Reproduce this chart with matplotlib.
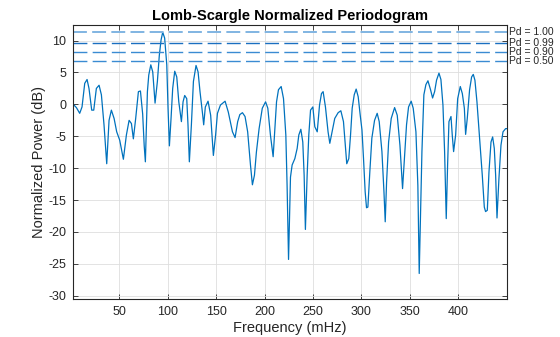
import matplotlib

matplotlib.use('Agg')

import matplotlib.pyplot as plt
import matplotlib.transforms as mtransforms

# frequency (mHz) and normalized power (dB)
freq = [
    2.6, 5.8, 9.2, 11.6, 14.4, 16.8, 18.8, 21.6, 23.7, 26.4, 29.2, 31.6,
    34.3, 37.1, 39.5, 41.9, 44.7, 47.4, 50.5, 54.3, 57.4, 60.2, 62.6, 64.6,
    67.0, 69.8, 71.9, 74.2, 75.8, 77.0, 79.1, 80.5, 82.6, 84.6, 87.0, 89.4,
    91.4, 93.2, 94.9, 96.9, 99.1, 100.4, 101.8, 103.5, 105.2, 107.3, 109.4,
    111.5, 114.2, 115.9, 117.6, 119.7, 121.0, 122.4, 124.5, 126.6, 129.3,
    131.4, 133.4, 136.2, 137.2, 138.9, 141.7, 144.4, 147.2, 149.5, 151.4,
    154.5, 159.3, 162.6, 166.9, 169.6, 172.3, 174.5, 177.2, 179.9, 182.6,
    185.5, 187.5, 189.6, 191.6, 194.4, 197.7, 201.1, 203.4, 206.1, 208.9,
    211.0, 212.4, 214.4, 217.2, 219.6, 222.0, 223.3, 224.8, 226.8, 228.5,
    231.3, 233.7, 235.4, 237.5, 239.5, 240.9, 242.2, 244.0, 245.7, 247.5,
    249.9, 251.9, 254.4, 256.8, 258.8, 260.5, 262.9, 265.6, 267.4, 269.8,
    272.5, 276.0, 278.8, 281.5, 283.6, 284.9, 287.0, 288.8, 290.5, 292.6,
    294.6, 296.7, 298.8, 300.6, 302.2, 303.9, 305.3, 306.7, 308.7, 310.8,
    313.6, 316.3, 318.4, 321.2, 323.3, 324.6, 326.0, 328.1, 330.8, 334.3,
    337.0, 339.8, 342.5, 344.6, 346.6, 348.7, 351.4, 353.5, 356.3, 358.3,
    359.7, 361.1, 362.5, 364.5, 366.6, 368.7, 371.4, 373.5, 375.6, 377.6,
    380.1, 382.1, 384.2, 385.9, 387.6, 389.0, 390.4, 392.5, 393.8, 395.2,
    397.3, 399.4, 402.1, 404.2, 406.3, 407.6, 409.3, 411.7, 413.8, 415.5,
    417.2, 419.3, 422.1, 424.8, 426.9, 428.2, 430.0, 431.7, 433.8, 435.5,
    437.2, 438.6, 440.0, 442.0, 444.1, 446.2, 448.9, 450.0,
]
power_db = [
    0.0, -0.5, -1.4, -0.4, 3.3, 3.9, 2.5, -0.9, -0.9, 2.5, 3.0, 1.5,
    -3.2, -9.3, -2.5, -0.9, -2.2, -4.3, -5.6, -8.6, -4.8, -2.5, -3.0, -5.4,
    -2.2, 2.0, 2.1, -1.5, -6.5, -9.0, 2.0, 4.6, 6.2, 5.1, 0.2, 3.6,
    7.7, 10.1, 11.3, 10.4, 6.2, -0.6, -6.5, -2.2, 2.5, 5.2, 4.3,
    0.4, -2.7, 0.4, 1.4, 0.9, -3.2, -9.0, -3.2, 3.6, 6.1,
    5.1, 2.0, -1.7, -3.2, -0.4, 0.5, -1.7, -8.0, -4.8, -1.4,
    -0.1, 0.5, -1.2, -4.3, -5.2, -2.7, -1.6, -1.3, -1.9, -4.3,
    -9.5, -12.6, -11.1, -7.5, -3.8, -0.6, 0.4, -0.6, -4.8, -8.2,
    -3.2, 0.4, 2.3, 2.8, 0.9, -4.8, -12.7, -24.3, -11.4, -9.5,
    -8.5, -6.9, -4.8, -3.9, -5.9, -11.1, -19.6, -11.1, -4.8, -0.9,
    -0.4, -3.5, -4.3, -0.1, 1.7, 2.0, -0.4, -4.3, -6.1, -4.3,
    -2.2, -1.3, -1.0, -2.7, -6.9, -9.3, -8.5, -4.8, -0.6, 1.5,
    2.4, 1.2, -1.7, -4.0, -8.5, -13.7, -16.2, -16.1, -10.6, -5.3,
    -2.5, -1.4, -2.7, -7.4, -13.7, -18.4, -12.2, -5.9, -2.2, -0.5,
    -1.7, -6.4, -13.2, -8.0, -3.2, -0.4, 0.5, -0.6, -4.3, -12.7,
    -26.5, -16.8, -7.4, 1.5, 3.1, 3.7, 2.3, 1.0, 2.0, 3.8,
    4.9, 3.9, -0.1, -7.4, -17.9, -9.5, -2.7, -1.9, -4.8, -7.4,
    -4.8, 0.9, 2.8, 1.7, -0.6, -4.7, -2.2, 2.3, 4.3, 4.7,
    3.8, 0.4, -5.4, -11.1, -16.1, -16.8, -16.6, -10.6, -5.9, -5.1,
    -6.9, -11.1, -17.8, -11.6, -6.4, -4.3, -3.8, -3.8,
]

# detection probability thresholds (dB)
pd_labels = ['Pd = 1.00', 'Pd = 0.99', 'Pd = 0.90', 'Pd = 0.50']
pd_levels = [11.38, 9.59, 8.28, 6.86]

plt.rcParams['font.family'] = ['Liberation Sans', 'DejaVu Sans']
plt.rcParams['axes.unicode_minus'] = False

fig = plt.figure(figsize=(5.6, 3.37), dpi=100)
ax = fig.add_axes([0.1309, 0.1128, 0.7739, 0.8122])

ax.plot(freq, power_db, color='#0072BD', lw=0.9)

pd_colors = ['#80b4e2', '#1a6fc0', '#3a8bd2', '#3a8bd2']
pd_widths = [1.4, 1.0, 1.0, 1.0]
trans = mtransforms.blended_transform_factory(ax.transAxes, ax.transData)
for lab, lvl, c, w in zip(pd_labels, pd_levels, pd_colors, pd_widths):
    ax.axhline(lvl, color=c, lw=w, dashes=(10 / w, 3.8 / w))
    ax.text(1.006, lvl, lab, transform=trans, ha='left', va='center',
            fontsize=7.5, color='#262626')

ax.set_xlim(2.6, 450)
ax.set_ylim(-30.5, 12.4)
ax.set_xticks(range(50, 401, 50))
ax.set_yticks(range(-30, 11, 5))

ax.grid(True, color='#dedede', lw=0.6)
ax.set_axisbelow(True)
for s in ax.spines.values():
    s.set_color('#262626')
    s.set_linewidth(0.8)
ax.tick_params(direction='in', length=3.5, width=0.6, top=True, right=True,
               labelsize=9, colors='#262626', pad=5)

ax.set_title('Lomb-Scargle Normalized Periodogram', fontsize=10.5,
             fontweight='bold', color='black', pad=4)
ax.set_xlabel('Frequency (mHz)', fontsize=10.5, color='#262626', labelpad=2)
ax.set_ylabel('Normalized Power (dB)', fontsize=10.5, color='#262626',
              labelpad=2)

fig.savefig('out.png', dpi=100)
